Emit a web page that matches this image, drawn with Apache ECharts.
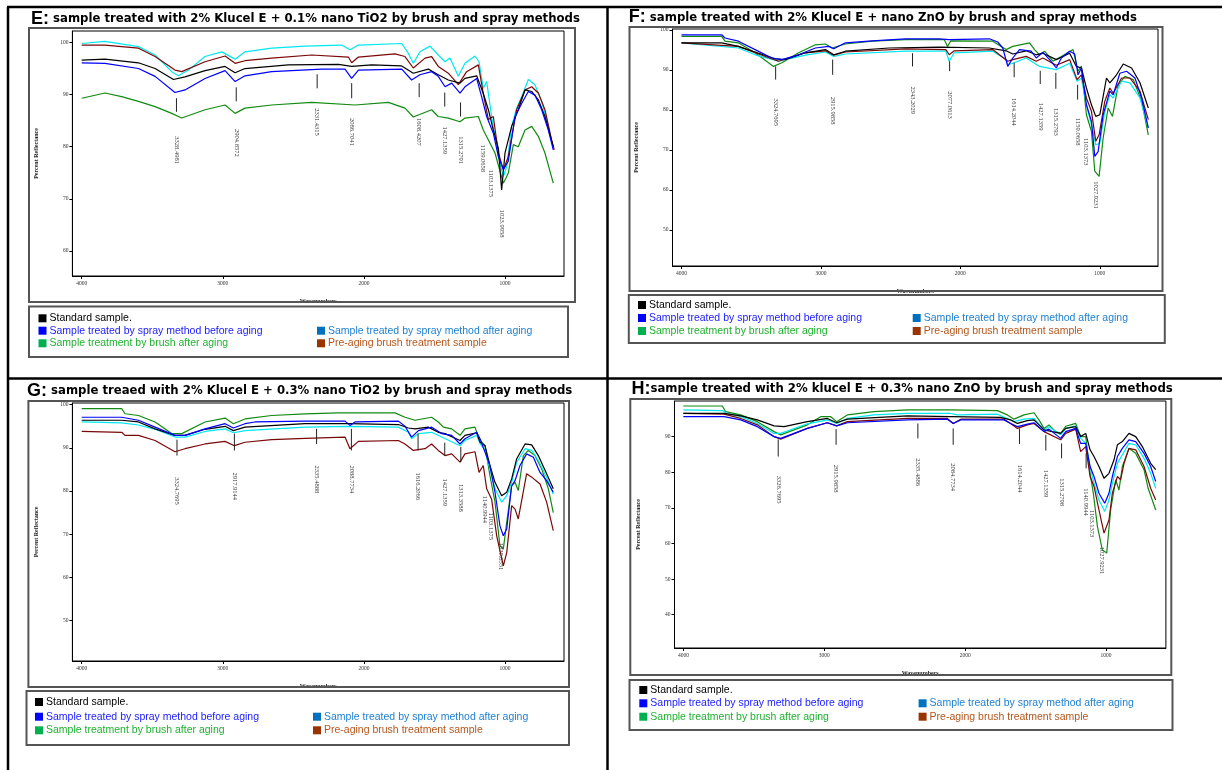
<!DOCTYPE html>
<html>
<head>
<meta charset="utf-8">
<script src="https://cdn.jsdelivr.net/npm/echarts@6.0.0/dist/echarts.min.js"></script>
<style>
html,body{margin:0;padding:0;background:#fff;}
#chart{width:1222px;height:770px;}
</style>
</head>
<body>
<div id="chart"></div>
<script>
// ---------------- DATA ----------------
const seriesNames = ['Standard sample.', 'Sample treated by spray method before aging', 'Sample treated by spray method after aging', 'Sample treatment by brush after aging', 'Pre-aging brush treatment sample'];
const xTickValues = [4000, 3000, 2000, 1000];
const yTicksE = [60, 70, 80, 90, 100];
const yTicksF = [50, 60, 70, 80, 90, 100];
const yTicksG = [50, 60, 70, 80, 90, 100];
const yTicksH = [40, 50, 60, 70, 80, 90];

// Panel E: 2% Klucel E + 0.1% nano TiO2  [wavenumber, % reflectance]
const E_standard = [[4000,96.6],[3835,96.8],[3598,96.1],[3480,95.0],[3350,92.9],[3268,93.4],[3126,94.6],[2984,95.4],[2913,94.2],[2843,95.0],[2536,95.7],[2181,95.8],[2087,95.4],[1945,95.7],[1732,95.5],[1650,94.1],[1544,94.9],[1473,93.8],[1402,92.8],[1319,92.2],[1284,93.1],[1201,93.6],[1154,90.2],[1118,87.1],[1083,83.2],[1047,79.7],[1024,71.7],[1000,78.8],[953,83.9],[906,87.1],[858,90.9],[811,90.6],[764,89.0],[717,85.8],[658,80.0]];
const E_sprayBefore = [[4000,96.1],[3835,96.0],[3598,95.0],[3480,93.5],[3339,90.4],[3268,90.9],[3126,93.1],[2984,94.6],[2913,92.5],[2843,93.6],[2654,94.4],[2299,94.9],[2134,94.9],[2087,93.1],[2039,94.7],[1732,94.9],[1662,92.8],[1603,93.8],[1520,94.4],[1473,93.5],[1425,91.5],[1378,92.2],[1319,90.3],[1284,91.5],[1201,93.1],[1166,89.6],[1130,85.8],[1083,82.6],[1047,78.1],[1012,75.6],[977,77.2],[929,85.8],[882,88.3],[835,90.6],[788,89.9],[740,87.1],[693,83.2],[658,79.4]];
const E_sprayAfter = [[4000,99.8],[3835,100.2],[3598,99.2],[3480,97.6],[3362,94.4],[3315,93.6],[3244,94.7],[3126,97.3],[3008,98.2],[2913,96.8],[2843,98.2],[2654,98.9],[2417,99.3],[2158,99.5],[2099,98.6],[2039,99.5],[1732,99.8],[1685,97.9],[1650,96.0],[1603,98.2],[1532,99.3],[1473,97.6],[1425,96.3],[1390,97.0],[1331,93.5],[1284,96.0],[1213,97.4],[1184,96.3],[1154,91.2],[1130,92.5],[1095,85.8],[1047,78.1],[1012,74.3],[988,76.2],[953,83.9],[918,87.4],[882,89.6],[835,92.9],[788,91.9],[740,88.7],[693,83.9],[658,79.7]];
const E_brushAfter = [[4000,89.3],[3835,90.3],[3717,89.6],[3598,88.7],[3480,87.7],[3362,86.4],[3291,85.5],[3126,87.1],[2984,88.0],[2913,86.4],[2843,87.4],[2654,88.0],[2370,88.5],[2063,88.0],[1827,88.5],[1709,87.4],[1650,85.7],[1520,87.1],[1473,85.8],[1402,85.5],[1319,84.8],[1284,85.5],[1189,85.8],[1154,83.2],[1118,81.3],[1071,78.8],[1012,73.0],[977,74.9],[941,80.4],[906,80.0],[858,83.2],[811,83.9],[764,82.0],[717,78.8],[658,73.0]];
const E_preBrush = [[4000,99.5],[3835,99.5],[3598,98.9],[3480,97.3],[3339,94.7],[3291,94.4],[3126,96.3],[2984,97.4],[2913,96.0],[2843,96.5],[2654,97.0],[2370,97.6],[2110,97.2],[2087,96.1],[2039,97.2],[1780,97.8],[1709,97.3],[1650,95.1],[1567,97.0],[1520,97.3],[1473,95.4],[1402,94.1],[1331,91.9],[1272,94.4],[1189,95.7],[1154,90.2],[1118,85.2],[1083,85.8],[1047,78.8],[1012,75.6],[977,78.1],[918,87.1],[858,90.9],[811,91.5],[764,90.3],[717,87.1],[670,81.3],[651,79.4]];
const E_peakLabels = ['3328.4981','2904.8572','2331.4315','2086.7041','1608.4207','1427.1359','1315.2791','1159.0658','1103.1375','1023.9958'];
const E_peakTickTop = [89.3, 91.4, 93.9, 92.2, 92.2, 90.4, 88.5, null, null, null];
const E_peakTickBottom = [86.7, 88.7, 91.2, 89.3, 89.5, 87.7, 85.8, null, null, null];
const E_peakLabelTop = [82.0, 83.4, 87.4, 85.5, 85.5, 83.9, 82.0, 80.4, 75.6, 67.9];

// Panel F: 2% Klucel E + nano ZnO
const F_standard = [[4000,96.8],[3712,96.8],[3592,95.9],[3472,94.5],[3328,92.8],[3256,92.6],[3112,94.3],[2968,95.1],[2908,93.8],[2824,94.7],[2512,95.5],[2152,95.7],[1792,95.5],[1672,94.8],[1624,94.0],[1528,94.8],[1456,93.8],[1408,94.2],[1312,92.6],[1216,94.2],[1168,90.9],[1132,90.5],[1096,85.5],[1060,81.3],[1029,78.4],[1000,78.8],[952,88.0],[928,86.8],[880,88.8],[832,91.5],[772,90.5],[712,86.8],[652,80.5]];
const F_sprayBefore = [[4000,98.8],[3712,98.8],[3688,98.0],[3592,97.2],[3472,95.1],[3352,93.0],[3280,92.6],[3160,93.8],[3040,95.5],[2944,95.9],[2908,95.3],[2824,96.8],[2632,97.3],[2392,97.8],[2152,97.8],[2080,97.6],[1792,97.8],[1732,97.0],[1696,95.5],[1660,90.9],[1624,93.0],[1576,95.1],[1492,94.7],[1456,93.0],[1408,94.4],[1360,92.6],[1312,90.5],[1276,93.0],[1216,94.7],[1180,94.0],[1156,88.8],[1132,90.5],[1096,81.3],[1060,77.2],[1036,68.4],[1012,69.6],[976,78.8],[928,84.7],[904,83.8],[856,89.2],[808,89.7],[748,88.0],[700,83.0],[652,75.5]];
const F_sprayAfter = [[4000,96.8],[3592,95.5],[3472,93.8],[3304,92.2],[3112,93.7],[2968,94.5],[2908,93.4],[2824,94.0],[2392,94.7],[2104,94.7],[2080,92.2],[2044,94.3],[1768,94.7],[1672,92.6],[1660,91.3],[1624,91.7],[1528,93.0],[1432,90.9],[1312,90.1],[1216,91.7],[1163,87.2],[1132,88.0],[1096,81.3],[1060,76.3],[1029,71.3],[1000,71.7],[964,79.7],[928,83.8],[904,83.0],[844,87.2],[784,86.8],[712,83.0],[652,75.5]];
const F_brushAfter = [[4000,98.4],[3712,98.4],[3688,97.2],[3592,96.8],[3472,94.3],[3340,90.9],[3280,91.8],[3160,94.3],[3040,96.3],[2968,96.5],[2920,95.5],[2824,96.5],[2632,97.2],[2392,97.6],[2116,97.6],[2092,95.9],[2068,97.3],[1768,97.2],[1672,95.1],[1624,95.9],[1504,96.8],[1468,95.1],[1432,93.8],[1396,94.7],[1336,92.2],[1276,93.4],[1192,95.1],[1156,89.7],[1132,91.0],[1096,78.8],[1060,74.7],[1036,64.7],[1005,63.4],[976,73.0],[940,80.5],[909,78.4],[868,86.3],[820,88.4],[760,87.6],[700,82.2],[652,73.8]];
const F_preBrush = [[4000,96.8],[3592,95.9],[3472,94.3],[3304,92.2],[3112,94.3],[2968,94.8],[2908,93.7],[2824,94.5],[2392,95.3],[2104,95.1],[2080,93.8],[2044,94.8],[1768,95.1],[1660,92.2],[1624,92.6],[1528,93.4],[1456,92.2],[1408,93.0],[1312,91.2],[1216,92.6],[1163,87.6],[1132,88.8],[1096,83.0],[1060,79.7],[1029,72.2],[1005,73.8],[964,82.2],[928,85.5],[904,84.2],[844,88.0],[784,88.0],[712,84.7],[652,77.6]];
const F_peakLabels = ['3324.7695','2915.9858','2343.2029','2077.0613','1614.2044','1427.1359','1315.2793','1159.0658','1103.1373','1027.9231'];
const F_peakTickTop = [90.9, 92.6, 94.2, 92.2, 91.8, 89.8, 89.3, 86.3, null, null];
const F_peakTickBottom = [87.6, 88.8, 90.9, 89.7, 88.2, 86.5, 85.3, 82.6, null, null];
const F_peakLabelTop = [82.9, 83.3, 85.9, 84.7, 83.0, 81.8, 80.5, 78.0, 73.0, 62.2];

// Panel G: 2% Klucel E + 0.3% nano TiO2
const G_standard = [[4000,96.4],[3717,96.4],[3598,96.0],[3480,94.4],[3339,92.9],[3268,92.9],[3126,94.3],[2984,95.0],[2925,94.0],[2843,94.8],[2417,95.6],[2110,95.6],[1756,95.4],[1685,94.6],[1638,94.4],[1544,94.8],[1473,93.6],[1425,93.3],[1319,91.7],[1284,92.9],[1201,93.5],[1177,91.3],[1142,90.5],[1107,85.9],[1071,82.0],[1024,78.9],[988,79.7],[953,82.8],[918,87.4],[858,90.9],[811,90.7],[764,88.2],[705,84.0],[658,80.5]];
const G_sprayBefore = [[4000,97.1],[3717,97.1],[3598,96.4],[3480,94.8],[3339,92.9],[3268,92.9],[3126,94.4],[2984,95.6],[2925,94.6],[2843,95.6],[2772,96.0],[2417,96.2],[2134,96.2],[2099,95.2],[2063,96.0],[1756,96.2],[1709,95.0],[1662,92.5],[1614,94.0],[1520,94.8],[1449,93.3],[1378,92.9],[1319,90.9],[1284,92.1],[1201,93.6],[1177,92.1],[1142,89.0],[1107,85.9],[1071,79.7],[1036,71.9],[1012,69.6],[988,71.2],[953,81.2],[929,82.4],[894,85.9],[847,88.6],[799,87.8],[752,84.3],[705,82.4],[658,79.7]];
const G_sprayAfter = [[4000,96.0],[3717,95.8],[3598,95.3],[3480,94.3],[3339,92.5],[3268,92.5],[3126,93.8],[2984,94.4],[2925,93.5],[2843,94.0],[2417,94.8],[2110,95.0],[1756,94.8],[1685,93.6],[1662,92.1],[1614,93.3],[1520,93.6],[1449,92.5],[1319,90.5],[1284,91.7],[1201,92.9],[1177,91.0],[1142,89.4],[1107,85.1],[1071,80.5],[1024,77.4],[988,78.9],[953,82.0],[918,86.6],[858,89.8],[811,89.4],[764,87.1],[705,83.2],[658,79.3]];
const G_brushAfter = [[4000,99.1],[3717,99.1],[3693,97.9],[3598,97.5],[3480,96.0],[3362,93.3],[3291,93.3],[3126,96.0],[2984,96.9],[2925,95.6],[2843,96.7],[2654,97.5],[2417,97.9],[2181,98.1],[1780,98.1],[1709,97.1],[1638,96.4],[1520,97.1],[1473,96.0],[1437,94.8],[1378,94.4],[1319,92.9],[1284,94.4],[1213,94.8],[1184,92.1],[1142,90.5],[1107,83.6],[1071,77.4],[1036,67.3],[1012,66.5],[988,72.7],[953,81.2],[929,82.0],[906,80.1],[870,88.2],[835,89.4],[788,88.2],[740,85.1],[693,80.5],[658,75.0]];
const G_preBrush = [[4000,93.8],[3717,93.6],[3693,92.9],[3598,92.9],[3480,91.7],[3339,89.1],[3268,89.8],[3126,90.9],[2984,91.5],[2918,90.5],[2843,91.3],[2654,91.9],[2417,92.2],[2134,92.5],[2099,89.8],[2039,91.5],[1756,91.7],[1709,90.9],[1650,89.4],[1567,89.8],[1520,90.9],[1473,89.4],[1425,88.2],[1378,88.6],[1319,86.7],[1284,88.6],[1213,89.1],[1184,84.3],[1154,85.9],[1130,80.5],[1095,78.1],[1059,69.6],[1012,62.6],[988,65.7],[953,76.6],[929,75.8],[906,73.5],[847,84.0],[811,83.2],[752,81.6],[705,77.4],[658,70.8]];
const G_peakLabels = ['3324.7695','2917.9144','2335.4888','2088.7734','1616.2066','1427.1359','1313.3588','1140.9944','1103.1375','1030.8551'];
const G_peakTickTop = [91.9, 93.3, 94.4, 94.4, 93.3, 91.2, 90.2, null, null, null];
const G_peakTickBottom = [88.2, 89.4, 90.9, 89.4, 89.4, 88.2, 86.7, null, null, null];
const G_peakLabelTop = [83.2, 84.3, 85.9, 85.9, 84.3, 82.9, 81.6, 78.9, 75.0, 68.0];

// Panel H: 2% klucel E + 0.3% nano ZnO
const H_standard = [[4000,96.5],[3711,96.5],[3593,95.8],[3475,94.7],[3356,93.0],[3285,92.8],[3120,94.2],[2978,95.1],[2912,93.9],[2836,94.9],[2410,95.8],[2103,95.6],[1748,95.4],[1677,94.7],[1629,93.7],[1558,94.5],[1511,94.7],[1440,91.9],[1322,90.9],[1286,92.3],[1215,92.8],[1180,90.0],[1144,90.9],[1113,86.3],[1085,84.4],[1050,81.6],[1014,78.3],[979,79.7],[943,83.5],[919,87.7],[884,88.6],[837,90.9],[789,90.0],[742,87.2],[683,82.5],[647,80.7]];
const H_sprayBefore = [[4000,95.6],[3711,95.6],[3593,94.7],[3475,92.8],[3356,90.0],[3309,89.5],[3120,92.3],[2978,93.9],[2912,93.0],[2836,93.9],[2410,94.7],[2126,94.9],[2084,93.7],[2031,94.7],[1724,94.7],[1677,93.7],[1629,92.8],[1558,93.5],[1511,93.9],[1440,91.4],[1405,92.1],[1322,89.5],[1286,91.4],[1215,92.3],[1180,88.1],[1144,88.1],[1113,81.6],[1085,78.8],[1050,74.1],[1009,71.3],[979,74.1],[955,78.8],[919,84.4],[884,86.7],[837,89.1],[789,88.6],[730,85.3],[683,81.6],[647,77.4]];
const H_sprayAfter = [[4000,97.5],[3723,97.3],[3688,96.5],[3593,95.6],[3475,93.7],[3356,90.9],[3309,90.9],[3120,93.6],[2978,94.7],[2912,93.7],[2836,95.1],[2647,96.1],[2410,96.5],[2103,96.5],[2055,96.1],[1771,96.3],[1700,95.1],[1653,94.2],[1582,94.9],[1511,95.1],[1440,91.9],[1405,92.8],[1322,90.5],[1286,92.3],[1215,93.0],[1180,89.5],[1144,88.1],[1113,81.6],[1085,76.9],[1050,72.2],[1009,69.0],[979,72.2],[955,76.9],[919,82.5],[884,84.9],[837,88.1],[789,87.7],[730,83.9],[683,79.7],[647,75.5]];
const H_brushAfter = [[4000,98.6],[3723,98.6],[3700,97.0],[3593,96.1],[3475,94.2],[3356,91.4],[3309,90.5],[3120,93.3],[3025,95.6],[2954,95.6],[2912,94.2],[2836,96.1],[2647,97.0],[2410,97.5],[2103,97.5],[1771,97.3],[1700,96.1],[1653,94.9],[1582,96.1],[1511,96.7],[1476,94.7],[1440,92.3],[1405,93.3],[1357,91.4],[1322,90.9],[1286,92.9],[1215,93.7],[1180,90.0],[1144,90.0],[1113,79.7],[1090,74.1],[1061,64.8],[1026,58.2],[995,57.3],[967,69.4],[931,77.9],[908,75.0],[884,81.6],[837,86.7],[789,85.3],[730,80.7],[701,75.5],[647,69.4]];
const H_preBrush = [[4000,96.5],[3711,96.3],[3593,95.1],[3475,93.3],[3356,90.0],[3309,89.3],[3120,92.3],[2978,93.9],[2912,93.0],[2836,94.2],[2410,95.1],[2126,95.1],[2084,93.7],[2031,94.9],[1724,94.9],[1677,93.7],[1629,92.3],[1558,93.3],[1511,93.7],[1440,91.4],[1322,89.1],[1286,90.9],[1215,92.1],[1180,85.8],[1144,87.2],[1113,78.8],[1085,76.0],[1050,69.4],[1014,62.9],[979,66.6],[955,74.1],[919,78.8],[896,77.9],[872,82.5],[837,86.7],[789,86.3],[730,81.6],[683,75.5],[647,72.2]];
const H_peakLabels = ['3326.7695','2915.9858','2335.4886','2084.7734','1614.2044','1427.1359','1315.2798','1140.9944','1103.1373','1027.9231'];
const H_peakTickTop = [89.2, 92.1, 93.7, 92.3, 92.3, 90.5, 88.1, 85.3, null, null];
const H_peakTickBottom = [84.4, 87.7, 89.5, 87.7, 87.9, 86.1, 83.9, 81.1, null, null];
const H_peakLabelTop = [79.0, 82.1, 83.9, 82.5, 82.1, 80.7, 78.3, 75.5, 69.4, 59.1];

const titlesText = [
  ['E:', ' sample treated with 2% Klucel E + 0.1% nano TiO2 by brush and spray methods'],
  ['F:', ' sample treated with 2% Klucel E + nano ZnO by brush and spray methods'],
  ['G:', ' sample treaed with 2% Klucel E + 0.3% nano TiO2 by brush and spray methods'],
  ['H:', 'sample treated with 2% klucel E + 0.3% nano ZnO by brush and spray methods']
];

// ---------------- STYLE / LAYOUT ----------------
const lineColors = ['#000000', '#0000ff', '#00e8f0', '#128a12', '#7a0808'];
const legendMarkColors = ['#000000', '#0000ff', '#0070c0', '#00b050', '#993300'];
const legendTextColors = ['#000000', '#2020ff', '#1f80d0', '#20b030', '#b4561c'];
const drawOrder = [3, 2, 4, 0, 1];

const panels = [
  { series: [E_standard, E_sprayBefore, E_sprayAfter, E_brushAfter, E_preBrush],
    labels: E_peakLabels, tTop: E_peakTickTop, tBot: E_peakTickBottom, lTop: E_peakLabelTop,
    grid: {left: 72.4, top: 31, width: 491.6, height: 245}, xMin: 582, xMax: 4066, yMin: 55.2, yMax: 102.2, yTicks: yTicksE,
    frame: [29, 28, 546, 274], legendBox: [29, 306.5, 539, 50.5], lx: [38.5, 317], ly: [318.3, 330.7, 343.3],
    titleX: 31, titleY: 19 },
  { series: [F_standard, F_sprayBefore, F_sprayAfter, F_brushAfter, F_preBrush],
    labels: F_peakLabels, tTop: F_peakTickTop, tBot: F_peakTickBottom, lTop: F_peakLabelTop,
    grid: {left: 672.5, top: 29, width: 485.5, height: 237}, xMin: 582.6, xMax: 4064.5, yMin: 41, yMax: 100.25, yTicks: yTicksF,
    frame: [629.5, 27, 533, 264], legendBox: [628.8, 295, 536, 48], lx: [638, 912.7], ly: [305, 318, 331],
    titleX: 628.8, titleY: 17.5 },
  { series: [G_standard, G_sprayBefore, G_sprayAfter, G_brushAfter, G_preBrush],
    labels: G_peakLabels, tTop: G_peakTickTop, tBot: G_peakTickBottom, lTop: G_peakLabelTop,
    grid: {left: 72.4, top: 403, width: 491.6, height: 258}, xMin: 582, xMax: 4066, yMin: 40.56, yMax: 100.4, yTicks: yTicksG,
    frame: [28.4, 401, 540.6, 286], legendBox: [26.5, 691, 542.5, 54], lx: [35, 313], ly: [702, 716.7, 730.3],
    titleX: 27, titleY: 390.7 },
  { series: [H_standard, H_sprayBefore, H_sprayAfter, H_brushAfter, H_preBrush],
    labels: H_peakLabels, tTop: H_peakTickTop, tBot: H_peakTickBottom, lTop: H_peakLabelTop,
    grid: {left: 674.5, top: 401, width: 491.4, height: 247}, xMin: 574.8, xMax: 4063, yMin: 30.65, yMax: 100, yTicks: yTicksH,
    frame: [630.3, 399, 541, 276], legendBox: [629.5, 680, 543, 50], lx: [639.3, 918.6], ly: [690, 703.3, 716.7],
    titleX: 631.5, titleY: 389 }
];

const serif = 'Liberation Serif';
const sans = 'Liberation Sans';
const titleFont = 'DejaVu Sans';

const option = {
  backgroundColor: '#ffffff',
  animation: false,
  grid: [], xAxis: [], yAxis: [], series: [], title: [], graphic: []
};

const graphics = [];
// page dividers
const pageLine = (x1, y1, x2, y2) => graphics.push({type: 'line', silent: true, z: 100,
  shape: {x1, y1, x2, y2}, style: {stroke: '#000', lineWidth: 2.5}});
pageLine(7, 7, 1222, 7);
pageLine(8, 7, 8, 770);
pageLine(607.5, 7, 607.5, 770);
pageLine(8, 378.5, 1222, 378.5);

panels.forEach((p, k) => {
  option.grid.push(Object.assign({show: true, borderColor: '#000', borderWidth: 1, backgroundColor: 'transparent'}, p.grid));
  option.xAxis.push({
    type: 'value', gridIndex: k, inverse: true, min: p.xMin, max: p.xMax,
    name: 'Wavenumbers', nameLocation: 'middle', nameGap: 22,
    nameTextStyle: {fontFamily: serif, fontSize: 6, fontWeight: 'bold', color: '#222'},
    axisLine: {show: true, lineStyle: {color: '#000', width: 1}},
    axisTick: {show: true, length: 3, inside: false, customValues: xTickValues, lineStyle: {color: '#000'}},
    axisLabel: {show: true, customValues: xTickValues, formatter: v => String(v), fontFamily: serif, fontSize: 5.5, color: '#333', margin: 5},
    splitLine: {show: false}
  });
  option.yAxis.push({
    type: 'value', gridIndex: k, min: p.yMin, max: p.yMax,
    name: 'Percent Reflectance', nameLocation: 'middle', nameGap: 33, nameRotate: 90,
    nameTextStyle: {fontFamily: serif, fontSize: 6, fontWeight: 'bold', color: '#222'},
    axisLine: {show: true, lineStyle: {color: '#000', width: 1}},
    axisTick: {show: true, length: 3, customValues: p.yTicks, lineStyle: {color: '#000'}},
    axisLabel: {show: true, customValues: p.yTicks, formatter: v => String(v), fontFamily: serif, fontSize: 5.5, color: '#333', margin: 4},
    splitLine: {show: false}
  });
  drawOrder.forEach(s => {
    option.series.push({
      type: 'line', name: seriesNames[s], xAxisIndex: k, yAxisIndex: k,
      data: p.series[s], showSymbol: false, symbol: 'none', smooth: false,
      lineStyle: {color: lineColors[s], width: 1.2}, itemStyle: {color: lineColors[s]},
      emphasis: {disabled: true}, silent: true, clip: true
    });
  });
  // peak annotations
  const peakData = p.labels.map((lab, i) => [parseFloat(lab),
    p.tTop[i] == null ? -1 : p.tTop[i], p.tBot[i] == null ? -1 : p.tBot[i], p.lTop[i], i]);
  const labels = p.labels;
  option.series.push({
    type: 'custom', xAxisIndex: k, yAxisIndex: k, silent: true, z: 5,
    encode: {x: 0, y: 3},
    data: peakData,
    renderItem: function (params, api) {
      const wn = api.value(0), tt = api.value(1), tb = api.value(2), lt = api.value(3), idx = api.value(4);
      const children = [];
      if (tt > 0) {
        const a = api.coord([wn, tt]), b = api.coord([wn, tb]);
        children.push({type: 'line', shape: {x1: a[0], y1: a[1], x2: b[0], y2: b[1]}, style: {stroke: '#222', lineWidth: 1}});
      }
      const c = api.coord([wn, lt]);
      children.push({type: 'text', x: c[0], y: c[1], rotation: -Math.PI / 2,
        style: {text: labels[idx], fontFamily: serif, fontSize: 6.5, fill: '#333', align: 'left', verticalAlign: 'middle'}});
      return {type: 'group', children};
    }
  });
  // title
  option.title.push({
    text: '{big|' + titlesText[k][0] + '}{t|' + titlesText[k][1] + '}',
    left: p.titleX, top: p.titleY - 10, padding: 0,
    textStyle: {rich: {
      big: {fontFamily: sans, fontSize: 18, fontWeight: 900, color: '#000', lineHeight: 20, verticalAlign: 'middle'},
      t: {fontFamily: titleFont, fontSize: 11.7, fontWeight: 'bold', color: '#000', lineHeight: 20, verticalAlign: 'middle'}
    }}
  });
  // frames
  graphics.push({type: 'rect', silent: true, z: 50, shape: {x: p.frame[0], y: p.frame[1], width: p.frame[2], height: p.frame[3]},
    style: {fill: 'none', stroke: '#555', lineWidth: 2}});
  graphics.push({type: 'rect', silent: true, z: 50, shape: {x: p.legendBox[0], y: p.legendBox[1], width: p.legendBox[2], height: p.legendBox[3]},
    style: {fill: 'none', stroke: '#555', lineWidth: 2}});
  // legend entries: row 0: [0], row 1: [1, 2], row 2: [3, 4]
  const slots = [[0, 0, 0], [1, 1, 0], [2, 1, 1], [3, 2, 0], [4, 2, 1]];
  slots.forEach(([s, row, col]) => {
    const x = p.lx[col], y = p.ly[row];
    graphics.push({type: 'rect', silent: true, z: 60, shape: {x: x, y: y - 4, width: 8, height: 8},
      style: {fill: legendMarkColors[s]}});
    graphics.push({type: 'text', silent: true, z: 60, x: x + 11, y: y,
      style: {text: seriesNames[s], fontFamily: sans, fontSize: 10.5, fill: legendTextColors[s], align: 'left', verticalAlign: 'middle'}});
  });
});
option.graphic = graphics;

const chart = echarts.init(document.getElementById('chart'), null, {renderer: 'canvas'});
chart.setOption(option);
</script>
</body>
</html>
